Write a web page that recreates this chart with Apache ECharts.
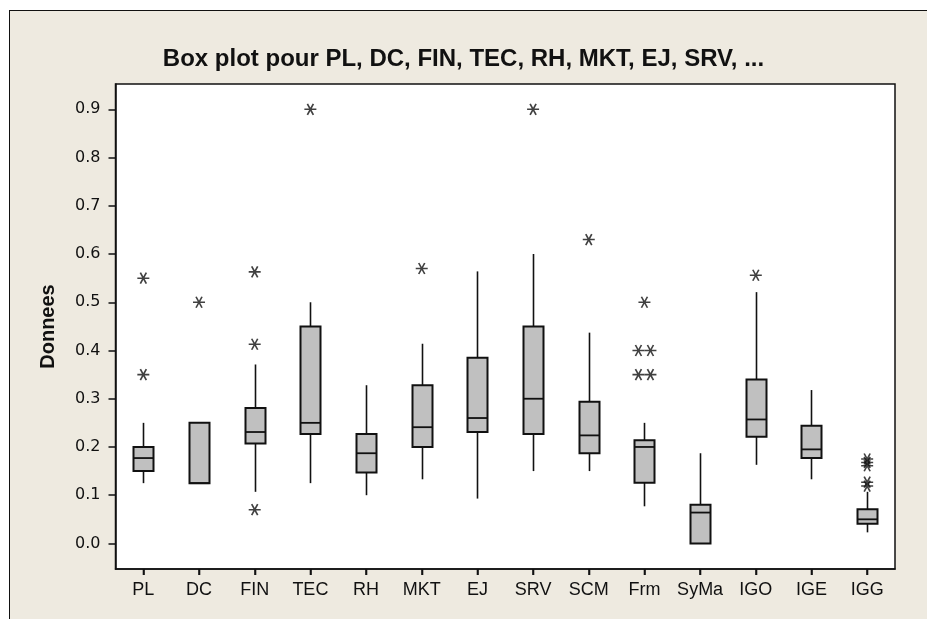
<!DOCTYPE html>
<html>
<head>
<meta charset="utf-8">
<script src="https://cdn.jsdelivr.net/npm/echarts@6/dist/echarts.min.js"></script>
<style>
html,body{margin:0;padding:0;background:#ffffff;overflow:hidden;}
#frame{position:absolute;left:9px;top:10px;width:940px;height:640px;background:#EEEAE0;border-left:1px solid #111;border-top:1px solid #111;}
#plotbg{position:absolute;left:116px;top:84px;width:779px;height:485px;background:#ffffff;}
#chart{position:absolute;left:0;top:0;width:927px;height:619px;}
</style>
</head>
<body>
<div id="frame"></div>
<div id="plotbg"></div>
<div id="chart"></div>
<script>
// ---- data ----
const categories = ['PL','DC','FIN','TEC','RH','MKT','EJ','SRV','SCM','Frm','SyMa','IGO','IGE','IGG'];
const whiskerLow  = [0.125,0.125,0.107,0.125,0.100,0.133,0.093,0.150,0.150,0.077,0.000,0.163,0.133,0.023];
const q1          = [0.150,0.125,0.207,0.227,0.147,0.200,0.231,0.227,0.187,0.126,0.000,0.221,0.177,0.041];
const median      = [0.177,0.125,0.231,0.250,0.187,0.241,0.260,0.300,0.224,0.200,0.064,0.257,0.195,0.050];
const q3          = [0.200,0.250,0.281,0.450,0.227,0.328,0.385,0.450,0.294,0.214,0.080,0.340,0.244,0.071];
const whiskerHigh = [0.250,0.250,0.371,0.500,0.328,0.414,0.564,0.600,0.437,0.250,0.187,0.521,0.318,0.107];
const outlierCat  = [0,0,1,2,2,2,3,5,7,8,9,9,9,9,9,11,13,13,13,13,13];
const outlierVal  = [0.550,0.350,0.500,0.563,0.413,0.070,0.900,0.570,0.900,0.630,0.500,0.400,0.400,0.350,0.350,0.556,0.175,0.168,0.161,0.127,0.119];
const yTicks = [0.0,0.1,0.2,0.3,0.4,0.5,0.6,0.7,0.8,0.9];
const titleText = 'Box plot pour PL, DC, FIN, TEC, RH, MKT, EJ, SRV, ...';
const yName = 'Donnees';

// ---- build options ----
const boxData = categories.map((c,i)=>[i, whiskerLow[i], q1[i], median[i], q3[i], whiskerHigh[i]]);

// side-by-side placement for identical outliers (as Minitab does)
const groups = {};
outlierCat.forEach((c,k)=>{const key=c+'_'+outlierVal[k]; (groups[key]=groups[key]||[]).push(k);});
const outlierData = outlierCat.map((c,k)=>{
  const g = groups[c+'_'+outlierVal[k]];
  const pos = g.indexOf(k);
  const off = g.length>1 ? (pos - (g.length-1)/2)*12 : 0;
  return {value:[c, outlierVal[k]], symbolOffset:[off,0]};
});

const star = 'path://M-5,0L5,0M-2.5,-4.33L2.5,4.33M2.5,-4.33L-2.5,4.33';
const ink = '#111111';
const FONT = '"Liberation Sans", Arial, sans-serif';

const chart = echarts.init(document.getElementById('chart'), null, {renderer:'canvas'});
chart.setOption({
  backgroundColor:'transparent',
  animation:false,
  title:{
    text:titleText, left:'center', top:42,
    textStyle:{fontFamily:FONT, fontSize:24, fontWeight:'bold', color:ink}
  },
  grid:{
    left:115.5, top:84, right:32, bottom:50,
    show:true, borderColor:ink, borderWidth:1.5
  },
  xAxis:{
    type:'category', data:categories, boundaryGap:true, position:'bottom',
    axisLine:{show:true, onZero:false, lineStyle:{color:ink, width:1.5}},
    axisTick:{show:true, interval:0, alignWithLabel:true, length:6, lineStyle:{color:ink, width:1.5}},
    axisLabel:{interval:0, fontFamily:FONT, fontSize:18, color:ink, margin:12},
    splitLine:{show:false}
  },
  yAxis:{
    type:'value', min:-0.053, max:0.9525,
    name:yName, nameLocation:'middle', nameRotate:90, nameGap:57,
    nameTextStyle:{fontFamily:FONT, fontSize:20, fontWeight:'bold', color:ink},
    axisLine:{show:true, lineStyle:{color:ink, width:1.5}},
    axisTick:{show:true, length:7, customValues:yTicks, lineStyle:{color:ink, width:1.5}},
    axisLabel:{fontFamily:'"DejaVu Sans", sans-serif', fontSize:16, color:ink, margin:15, customValues:yTicks,
      formatter:v=>Number(v).toFixed(1)},
    splitLine:{show:false}
  },
  series:[
    {
      type:'custom',
      data:boxData,
      clip:false,
      encode:{x:0, y:[1,2,3,4,5]},
      renderItem:function(params, api){
        const x = api.value(0);
        const pLow = api.coord([x, api.value(1)]);
        const pQ1 = api.coord([x, api.value(2)]);
        const pMed = api.coord([x, api.value(3)]);
        const pQ3 = api.coord([x, api.value(4)]);
        const pHigh = api.coord([x, api.value(5)]);
        const cx = Math.round(pLow[0])+0.5;
        const hw = 10;
        const lineStyle = {stroke:ink, lineWidth:1.6};
        const children = [];
        // category tick under the x axis (outward), at the category centre
        const axisBottom = params.coordSys.y + params.coordSys.height;
        children.push({type:'line', shape:{x1:cx, y1:axisBottom, x2:cx, y2:axisBottom+6}, style:{stroke:ink, lineWidth:1.6}});
        if (pHigh[1] < pQ3[1]) children.push({type:'line', shape:{x1:cx, y1:pHigh[1], x2:cx, y2:pQ3[1]}, style:lineStyle});
        if (pLow[1] > pQ1[1]) children.push({type:'line', shape:{x1:cx, y1:pQ1[1], x2:cx, y2:pLow[1]}, style:lineStyle});
        children.push({type:'rect', shape:{x:cx-hw, y:pQ3[1], width:hw*2, height:pQ1[1]-pQ3[1]},
          style:{fill:'#C0C0C0', stroke:ink, lineWidth:2}});
        children.push({type:'line', shape:{x1:cx-hw, y1:pMed[1], x2:cx+hw, y2:pMed[1]}, style:{stroke:ink, lineWidth:1.8}});
        return {type:'group', children:children};
      },
      z:3
    },
    {
      type:'scatter',
      data:outlierData,
      symbol:star, symbolSize:[12,11],
      itemStyle:{color:'rgba(0,0,0,0)', borderColor:ink, borderWidth:1.6},
      z:4
    }
  ]
});
</script>
</body>
</html>
